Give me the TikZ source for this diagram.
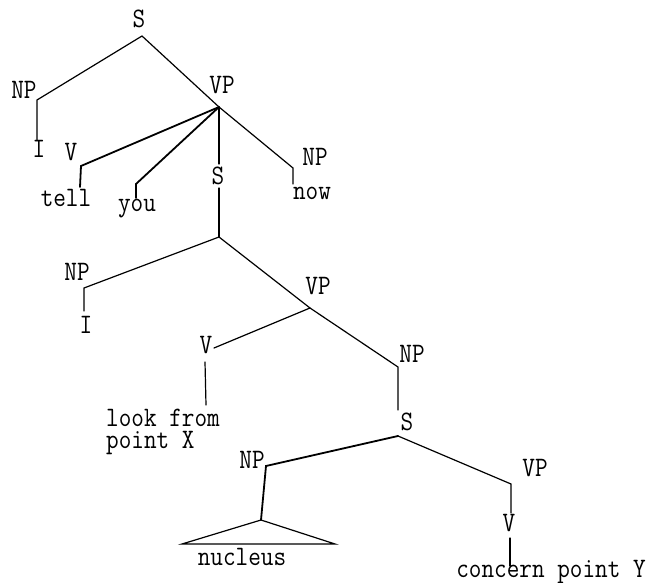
\documentclass[tikz,border=0pt]{standalone}
\usepackage{fontspec}
\usepackage{graphicx}
% typewriter labels, slightly stretched vertically
\newcommand{\twlab}[1]{\scalebox{1}[1.15]{#1}}
\begin{document}
\begin{tikzpicture}[x=1pt,y=-1pt,
  lab/.style={inner sep=0pt,font=\ttfamily\fontsize{24.5}{28}\selectfont},
  br/.style={line width=1.2pt,line cap=round},
  hv/.style={line width=1.8pt,line cap=round}]
\useasboundingbox (0,0) rectangle (654,583);

% labels
\node[lab] (s1) at (139,19) {\twlab{S}};
\node[lab] (np1) at (24,90) {\twlab{NP}};
\node[lab] (vp1) at (222,85) {\twlab{VP}};
\node[lab] (i1) at (39,149) {\twlab{I}};
\node[lab] (v1) at (71,152) {\twlab{V}};
\node[lab] (s2) at (218,176) {\twlab{S}};
\node[lab] (np2) at (315,157) {\twlab{NP}};
\node[lab] (tell) at (66,198) {\twlab{tell}};
\node[lab] (you) at (137,209) {\twlab{you}};
\node[lab] (now) at (312,193) {\twlab{now}};
\node[lab] (np3) at (77,272) {\twlab{NP}};
\node[lab] (i2) at (86,325) {\twlab{I}};
\node[lab] (vp2) at (318,286) {\twlab{VP}};
\node[lab] (v2) at (206,345) {\twlab{V}};
\node[lab] (np4) at (412,354) {\twlab{NP}};
\node[lab,anchor=west] (look) at (106,418) {\twlab{look from}};
\node[lab,anchor=west] (ptx) at (106,443) {\twlab{point X}};
\node[lab] (s3) at (407,422) {\twlab{S}};
\node[lab] (np5) at (252,460) {\twlab{NP}};
\node[lab] (vp3) at (535,468) {\twlab{VP}};
\node[lab] (v3) at (509,523) {\twlab{V}};
\node[lab] (nuc) at (242,557) {\twlab{nucleus}};
\node[lab] (conc) at (551,572) {\twlab{concern point Y}};

% branch points
\coordinate (jS1) at (142,36);
\coordinate (jNP1) at (37,100);
\coordinate (jNP1b) at (37,140);
\coordinate (jVP1) at (219,107);
\coordinate (jTell) at (81,166);
\coordinate (jTellb) at (80,187);
\coordinate (jYou) at (136,184);
\coordinate (jYoub) at (136,198);
\coordinate (jS2a) at (219,164);
\coordinate (jNP2) at (293,168);
\coordinate (jNP2b) at (293,184);
\coordinate (jS2b) at (219,188);
\coordinate (jS2) at (219,237);
\coordinate (jNP3) at (84,288);
\coordinate (jNP3b) at (84,311);
\coordinate (jVP2) at (310,308);
\coordinate (jV2) at (214,348);
\coordinate (jV2a) at (205,362);
\coordinate (jV2b) at (206,405);
\coordinate (jNP4) at (398,367);
\coordinate (jNP4b) at (398,410);
\coordinate (jS3) at (398,436);
\coordinate (jNP5) at (266,466);
\coordinate (jNP5b) at (261,520);
\coordinate (tL) at (182,544);
\coordinate (tR) at (335,544);
\coordinate (jVP3) at (511,484);
\coordinate (jVP3b) at (511,513);
\coordinate (jV3a) at (510,538);
\coordinate (jV3b) at (510,566);

% upper clause
\draw[br] (jS1) -- (jNP1) -- (jNP1b);
\draw[br] (jS1) -- (jVP1);
\draw[hv] (jVP1) -- (jTell) -- (jTellb);
\draw[hv] (jVP1) -- (jYou) -- (jYoub);
\draw[br] (jVP1) -- (jS2a);
\draw[br] (jVP1) -- (jNP2) -- (jNP2b);

% embedded clause
\draw[br] (jS2b) -- (jS2);
\draw[br] (jS2) -- (jNP3) -- (jNP3b);
\draw[br] (jS2) -- (jVP2);
\draw[br] (jVP2) -- (jV2);
\draw[br] (jV2a) -- (jV2b);
\draw[br] (jVP2) -- (jNP4) -- (jNP4b);

% lowest clause
\draw[hv] (jS3) -- (jNP5) -- (jNP5b);
\draw[br] (jNP5b) -- (tL) -- (tR) -- cycle;
\draw[br] (jS3) -- (jVP3) -- (jVP3b);
\draw[br] (jV3a) -- (jV3b);
\end{tikzpicture}
\end{document}
